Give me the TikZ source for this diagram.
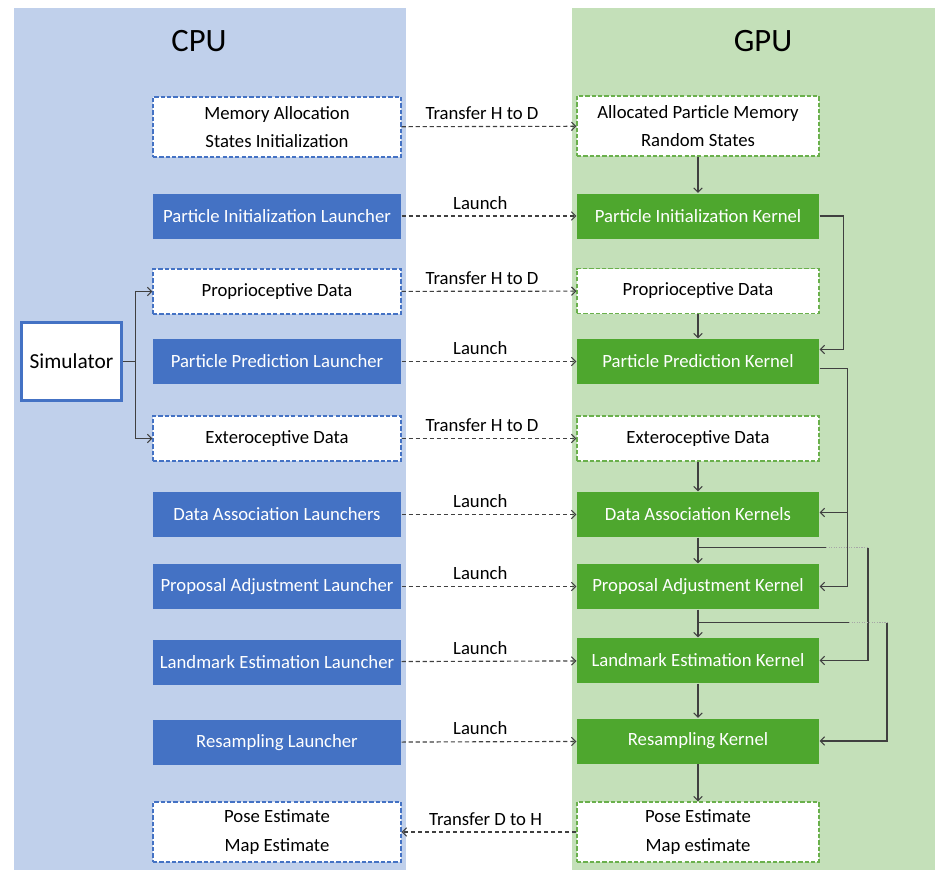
\documentclass[tikz,border=0pt]{standalone}
\usepackage{fontspec}
\setmainfont{Carlito}
\usetikzlibrary{arrows.meta,calc}

\definecolor{cpubg}{HTML}{C0D0EB}
\definecolor{gpubg}{HTML}{C4E0B9}
\definecolor{cpublue}{HTML}{4472C4}
\definecolor{gpugreen}{HTML}{4EA72E}
\definecolor{gpuline}{HTML}{6AB04C}
\definecolor{wire}{HTML}{404040}

\tikzset{
  box/.style={minimum height=11.25mm, inner sep=0pt, line width=0.8pt,
    font=\fontsize{13.3}{20}\selectfont},
  launcher/.style={box, minimum width=62mm, fill=cpublue, text=white},
  kernel/.style={box, minimum width=60.5mm, fill=gpugreen, text=white},
  cpudata/.style={box, minimum width=62mm, fill=white, draw=cpublue,
    dash pattern=on 3pt off 1.5pt},
  gpudata/.style={box, minimum width=60.5mm, fill=white, draw=gpuline,
    dash pattern=on 3pt off 1.5pt},
  twoline/.style={minimum height=15mm, align=center},
  wireline/.style={draw=wire, line width=0.8pt},
  arr/.style={wireline, -{Straight Barb[length=3pt,width=6pt]}},
  hd/.style={arr, dash pattern=on 3pt off 2pt},
  jump/.style={draw=gray!70, line width=0.8pt, densely dotted},
  lbl/.style={font=\fontsize{13.3}{16}\selectfont, above=1pt}
}

\begin{document}
\begin{tikzpicture}[x=0.25mm, y=-0.25mm]
  \useasboundingbox (0,0) rectangle (935,870);

  % Panels
  \fill[cpubg] (14,8) rectangle (406,870);
  \fill[gpubg] (572,8) rectangle (935,870);
  \node[font=\fontsize{23.2}{28}\selectfont] (cputitle) at (199,41) {CPU};
  \node[font=\fontsize{23.2}{28}\selectfont] (gputitle) at (763,41) {GPU};

  % CPU side
  \node[cpudata, twoline] (memcpu) at (277,127) {Memory Allocation\\States Initialization};
  \node[launcher] (initl) at (277,216) {Particle Initialization Launcher};
  \node[cpudata] (procpu) at (277,291.5) {Proprioceptive Data};
  \node[launcher] (predl) at (277,361.5) {Particle Prediction Launcher};
  \node[cpudata] (extcpu) at (277,438.5) {Exteroceptive Data};
  \node[launcher] (dal) at (277,514.5) {Data Association Launchers};
  \node[launcher] (propl) at (277,586.5) {Proposal Adjustment Launcher};
  \node[launcher] (landl) at (277,662) {Landmark Estimation Launcher};
  \node[launcher] (resl) at (277,742.5) {Resampling Launcher};
  \node[cpudata, twoline] (posecpu) at (277,832) {Pose Estimate\\Map Estimate};

  % Simulator
  \node[draw=cpublue, line width=1.8pt, fill=white, minimum width=25mm,
    minimum height=19.5mm, inner sep=0pt, font=\fontsize{15.2}{20}\selectfont]
    (sim) at (71.5,361.5) {Simulator};
  \draw[wireline] (sim.east) -- ++(13,0) coordinate (split);
  \draw[arr] (split) |- (procpu.west);
  \draw[arr] (split) |- (extcpu.west);

  % GPU side
  \node[gpudata, twoline] (allocgpu) at (698,126) {Allocated Particle Memory\\Random States};
  \node[kernel] (initk) at (698,216) {Particle Initialization Kernel};
  \node[gpudata] (progpu) at (698,291) {Proprioceptive Data};
  \node[kernel] (predk) at (698,361.5) {Particle Prediction Kernel};
  \node[gpudata] (extgpu) at (698,438.5) {Exteroceptive Data};
  \node[kernel] (dak) at (698,514.5) {Data Association Kernels};
  \node[kernel] (propk) at (698,586.5) {Proposal Adjustment Kernel};
  \node[kernel] (landk) at (698,660.5) {Landmark Estimation Kernel};
  \node[kernel] (resk) at (698,741) {Resampling Kernel};
  \node[gpudata, twoline] (posegpu) at (698,832) {Pose Estimate\\Map estimate};

  % Host <-> device
  \draw[hd] (memcpu) -- node[lbl, pos=0.46] {Transfer H to D} (allocgpu);
  \draw[hd] (initl) -- node[lbl, pos=0.45] {Launch} (initk);
  \draw[hd] (procpu) -- node[lbl, pos=0.46] {Transfer H to D} (progpu);
  \draw[hd] (predl) -- node[lbl, pos=0.45] {Launch} (predk);
  \draw[hd] (extcpu) -- node[lbl, pos=0.46] {Transfer H to D} (extgpu);
  \draw[hd] (dal) -- node[lbl, pos=0.45] {Launch} (dak);
  \draw[hd] (propl) -- node[lbl, pos=0.45] {Launch} (propk);
  \draw[hd] (landl) -- node[lbl, pos=0.45] {Launch} (landk);
  \draw[hd] (resl) -- node[lbl, pos=0.45] {Launch} (resk);
  \draw[hd] (posegpu) -- node[lbl, pos=0.52] {Transfer D to H} (posecpu);

  % Kernel chain
  \draw[arr] (allocgpu) -- (initk);
  \draw[arr] (progpu) -- (predk);
  \draw[arr] (extgpu) -- (dak);
  \draw[arr] (dak) -- (propk);
  \draw[arr] (propk) -- (landk);
  \draw[arr] (landk) -- (resk);
  \draw[arr] (resk) -- (posegpu);

  % Side connectors
  \draw[arr] (initk.east) -- ++(24,0) |- ($(predk.east)+(0,-12)$);
  \draw[arr] ($(predk.east)+(0,7)$) -- ++(28,0) |- (propk.east);
  \draw[arr] ($(dak.east)+(28,-2)$) -- ($(dak.east)+(0,-2)$);

  \draw[wireline] ($(dak.south)+(0,10)$) -- ++(128,0) coordinate (j1);
  \draw[jump] (j1) -- ++(42,0) coordinate (j2);
  \draw[arr] (j2) |- (landk.east);

  \draw[wireline] ($(propk.south)+(0,13)$) -- ++(151,0) coordinate (j3);
  \draw[jump] (j3) -- ++(38,0) coordinate (j4);
  \draw[arr] (j4) |- (resk.east);
\end{tikzpicture}
\end{document}
